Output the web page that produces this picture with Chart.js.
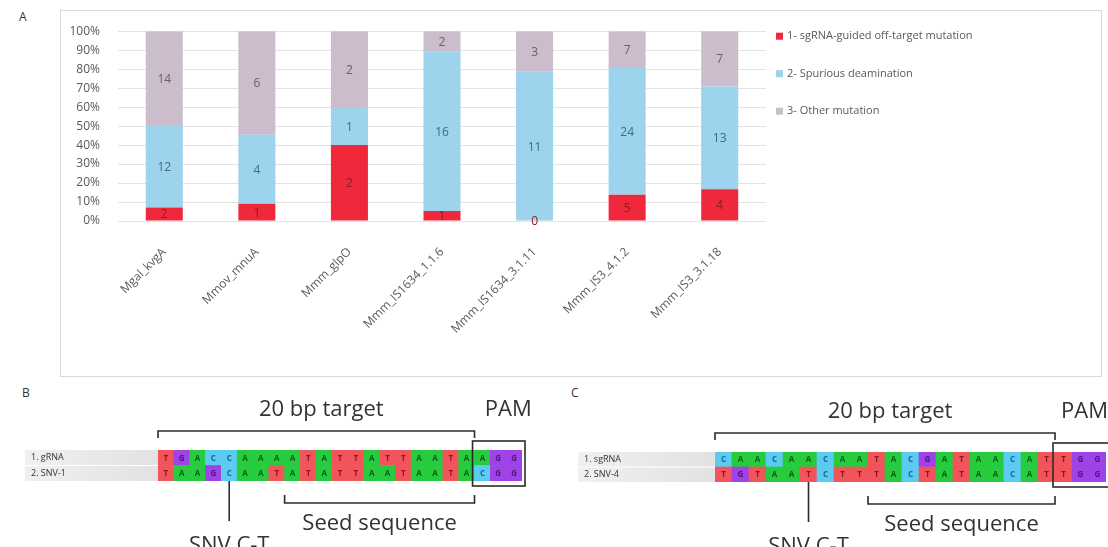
<!DOCTYPE html>
<html><head><meta charset="utf-8">
<script src="https://cdn.jsdelivr.net/npm/chart.js@4.4.1/dist/chart.umd.min.js"></script>
<style>
html,body{margin:0;padding:0;background:#fff;width:1108px;height:547px;overflow:hidden;font-family:'Open Sans',sans-serif;}
#panelA{position:absolute;left:60px;top:10px;width:1042px;height:367px;border:1px solid #d9d9d9;box-sizing:border-box;}
.lbl{position:absolute;font:12px 'Open Sans';color:#333;}
canvas{position:absolute;}
</style></head><body>
<div id="panelA"></div>
<div class="lbl" style="left:19px;top:8px">A</div>
<div class="lbl" style="left:22px;top:384px">B</div>
<div class="lbl" style="left:571px;top:384px">C</div>
<canvas id="chartA" width="1039" height="363" style="left:61px;top:6px;width:1039px;height:363px"></canvas>
<canvas id="chartB" width="560" height="167" style="left:0px;top:380px;width:560px;height:167px"></canvas>
<canvas id="chartC" width="548" height="167" style="left:560px;top:380px;width:548px;height:167px"></canvas>
<script>
// ---------- Panel A data ----------
const categories = ['Mgal_kvgA','Mmov_mnuA','Mmm_glpO','Mmm_IS1634_1.1.6','Mmm_IS1634_3.1.11','Mmm_IS3_4.1.2','Mmm_IS3_3.1.18'];
const offTarget = [2, 1, 2, 1, 0, 5, 4];
const spurious  = [12, 4, 1, 16, 11, 24, 13];
const other     = [14, 6, 2, 2, 3, 7, 7];
const seriesNames = ['1- sgRNA-guided off-target mutation','2- Spurious deamination','3- Other mutation'];
const yTickLabels = ['0%','10%','20%','30%','40%','50%','60%','70%','80%','90%','100%'];

// ---------- Panels B / C data ----------
const seqB_gRNA  = [...'TGACCAAAATATTATTAATAAGG'];
const seqB_SNV1  = [...'TAAGCAATATATTAATAATACGG'];
const seqC_sgRNA = [...'CAACAACAATACGATAACATTGG'];
const seqC_SNV4  = [...'TGTAATCTTTACTATAACATTGG'];
const rowNamesB = ['1. gRNA','2. SNV-1'];
const rowNamesC = ['1. sgRNA','2. SNV-4'];
const positions = ['1','2','3','4','5','6','7','8','9','10','11','12','13','14','15','16','17','18','19','20','21','22','23'];
const regionB = {target:[0,19], pam:[20,22], seed:[8,19], snv:4};
const regionC = {target:[0,19], pam:[20,22], seed:[9,19], snv:5};

// ---------- Styles ----------
const seriesColors = ['#f0283c','#9dd3ec','#cbbdcb'];
const labelColors  = ['#8a1d28','#3d6b8a','#6a5f6c'];
const baseColors   = {A:'#27cc3e', T:'#f2545c', C:'#5ccbf2', G:'#a043e6'};
const letterColors = {A:'#0c5a18', T:'#8e1717', C:'#16679f', G:'#4c1784'};
const FONT = '"Open Sans", "DejaVu Sans", sans-serif';

// ---------- Panel A ----------
const totals = categories.map((_, i) => offTarget[i] + spurious[i] + other[i]);
const toPct = arr => arr.map((v, i) => v / totals[i] * 100);
const seriesCounts = [offTarget, spurious, other];

const dataLabelPlugin = {
  id: 'dataLabels',
  afterDatasetsDraw(chart) {
    const ctx = chart.ctx;
    ctx.save();
    ctx.font = '12px ' + FONT;
    ctx.textAlign = 'center';
    ctx.textBaseline = 'middle';
    chart.data.datasets.forEach((ds, k) => {
      chart.getDatasetMeta(k).data.forEach((el, i) => {
        ctx.fillStyle = labelColors[k];
        ctx.fillText(String(ds.counts[i]), el.x, (el.y + el.base) / 2 + 1);
      });
    });
    ctx.restore();
  }
};
const legendPlugin = {
  id: 'sideLegend',
  afterDraw(chart) {
    const ctx = chart.ctx;
    const x0 = chart.chartArea.right + 10;
    ctx.save();
    ctx.font = '11px ' + FONT;
    ctx.textBaseline = 'middle';
    chart.data.datasets.forEach((ds, k) => {
      const y = chart.chartArea.top + 5 + k * 37.5;
      ctx.fillStyle = ds.backgroundColor;
      ctx.fillRect(x0, y - 3.5, 7, 7);
      ctx.fillStyle = '#595959';
      ctx.fillText(ds.label, x0 + 11, y);
    });
    ctx.restore();
  }
};

new Chart(document.getElementById('chartA'), {
  type: 'bar',
  data: {
    labels: categories,
    datasets: seriesCounts.map((c, k) => ({
      label: seriesNames[k], data: toPct(c), counts: c,
      backgroundColor: seriesColors[k], borderWidth: 0,
      barPercentage: 0.4, categoryPercentage: 1
    }))
  },
  options: {
    responsive: false, animation: false,
    layout: {padding: {left: 0, top: 14, right: 334, bottom: 0}},
    plugins: {legend: {display: false}, tooltip: {enabled: false}},
    scales: {
      x: {
        stacked: true,
        grid: {display: false}, border: {display: false},
        ticks: {minRotation: 45, maxRotation: 45, padding: 16, color: '#595959', font: {family: FONT, size: 12}},
        afterFit(s) { s.height = 148; }
      },
      y: {
        stacked: true, min: 0, max: 100,
        grid: {color: '#e3e3e3', drawTicks: false}, border: {display: false},
        ticks: {stepSize: 10, padding: 18, color: '#595959', font: {family: FONT, size: 12},
                callback: (v, i) => yTickLabels[i]},
        afterFit(s) { s.width = 57; }
      }
    }
  },
  plugins: [dataLabelPlugin, legendPlugin]
});

// ---------- Panels B / C ----------
function seqPlugin(reg, bandLeft, rowNames, pamDx) {
  return {
    id: 'seqDecor',
    beforeDatasetsDraw(chart) {
      const {ctx, chartArea: a} = chart;
      const h = (a.bottom - a.top) / 2;
      ctx.save();
      const g = ctx.createLinearGradient(bandLeft, 0, a.left, 0);
      g.addColorStop(0, '#f0f0f0'); g.addColorStop(1, '#e2e2e2');
      ctx.fillStyle = g;
      ctx.fillRect(bandLeft, a.top, a.left - bandLeft, a.bottom - a.top);
      ctx.strokeStyle = '#ffffff'; ctx.lineWidth = 1;
      ctx.beginPath(); ctx.moveTo(bandLeft, a.top + h); ctx.lineTo(a.left, a.top + h); ctx.stroke();
      ctx.fillStyle = '#333';
      ctx.font = '9px ' + FONT;
      ctx.textBaseline = 'middle';
      rowNames.forEach((r, i) => ctx.fillText(r, bandLeft + 6, a.top + h * (i + 0.5)));
      ctx.restore();
    },
    afterDatasetsDraw(chart) {
      const {ctx, chartArea: a} = chart;
      const xs = chart.scales.x;
      const n = chart.data.labels.length;
      const w = xs.width / n;
      const L = i => xs.getPixelForValue(i) - w / 2;
      const R = i => xs.getPixelForValue(i) + w / 2;
      ctx.save();
      ctx.font = 'bold 8px ' + FONT;
      ctx.textAlign = 'center';
      ctx.textBaseline = 'middle';
      chart.data.datasets.forEach((ds, k) => {
        chart.getDatasetMeta(k).data.forEach((el, i) => {
          const b = ds.letters[i];
          ctx.fillStyle = letterColors[b];
          ctx.fillText(b, el.x, (el.y + el.base) / 2 + 0.5);
        });
      });
      ctx.strokeStyle = '#2b2b2b';
      ctx.lineWidth = 1.6;
      const yb = a.top - 19;
      ctx.beginPath();
      ctx.moveTo(L(reg.target[0]), yb + 7); ctx.lineTo(L(reg.target[0]), yb);
      ctx.lineTo(R(reg.target[1]), yb); ctx.lineTo(R(reg.target[1]), yb + 7);
      ctx.stroke();
      ctx.strokeRect(L(reg.pam[0]) - 2, a.top - 9, R(reg.pam[1]) - L(reg.pam[0]) + 5, a.bottom - a.top + 14);
      const ys = a.bottom + 22;
      ctx.beginPath();
      ctx.moveTo(L(reg.seed[0]), ys - 8); ctx.lineTo(L(reg.seed[0]), ys);
      ctx.lineTo(R(reg.seed[1]), ys); ctx.lineTo(R(reg.seed[1]), ys - 8);
      ctx.stroke();
      const xc = xs.getPixelForValue(reg.snv);
      ctx.beginPath(); ctx.moveTo(xc, a.bottom); ctx.lineTo(xc, a.bottom + 40); ctx.stroke();
      ctx.fillStyle = '#333';
      ctx.font = '22px ' + FONT;
      ctx.fillText('20 bp target', (L(reg.target[0]) + R(reg.target[1])) / 2 + 5, a.top - 40);
      ctx.fillText('PAM', (L(reg.pam[0]) + R(reg.pam[1])) / 2 + pamDx, a.top - 40);
      ctx.fillText('Seed sequence', (L(reg.seed[0]) + R(reg.seed[1])) / 2, a.bottom + 43);
      ctx.fillText('SNV C-T', xc, a.bottom + 65);
      ctx.restore();
    }
  };
}

function seqChart(id, rows, rowNames, reg, pad, bandLeft, pamDx) {
  const n = rows[0].length;
  new Chart(document.getElementById(id), {
    type: 'bar',
    data: {
      labels: positions.slice(0, n),
      datasets: [rows[1], rows[0]].map((r, k) => ({
        label: rowNames[1 - k], data: r.map(() => 1), letters: r,
        backgroundColor: r.map(b => baseColors[b]), borderWidth: 0,
        barPercentage: 1, categoryPercentage: 1
      }))
    },
    options: {
      responsive: false, animation: false,
      layout: {padding: pad},
      plugins: {legend: {display: false}, tooltip: {enabled: false}},
      scales: {
        x: {stacked: true, display: false},
        y: {stacked: true, display: false, min: 0, max: 2}
      }
    },
    plugins: [seqPlugin(reg, bandLeft, rowNames, pamDx)]
  });
}

seqChart('chartB', [seqB_gRNA, seqB_SNV1], rowNamesB, regionB,
         {left: 158, right: 38, top: 70, bottom: 66}, 25, 10);
seqChart('chartC', [seqC_sgRNA, seqC_SNV4], rowNamesC, regionC,
         {left: 155, right: 2, top: 72, bottom: 65}, 18, 4);
</script>
</body></html>
